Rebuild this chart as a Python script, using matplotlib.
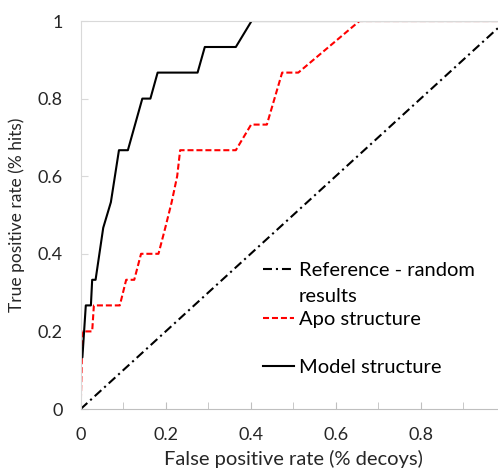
import matplotlib
matplotlib.use("Agg")
import matplotlib.pyplot as plt
from matplotlib.lines import Line2D
from matplotlib.ticker import FixedLocator, FuncFormatter

# ROC curves
model_fpr = [0, 0, 0.004, 0.012, 0.024, 0.027, 0.035, 0.053, 0.071, 0.090, 0.111,
             0.145, 0.164, 0.181, 0.275, 0.292, 0.365, 0.402, 1.0]
model_tpr = [0, 0.133, 0.133, 0.267, 0.267, 0.333, 0.333, 0.467, 0.533, 0.667, 0.667,
             0.8, 0.8, 0.867, 0.867, 0.933, 0.933, 1.0, 1.0]

apo_fpr = [0, 0.004, 0.027, 0.031, 0.092, 0.107, 0.126, 0.142, 0.183, 0.199, 0.214,
           0.227, 0.234, 0.365, 0.401, 0.438, 0.474, 0.512, 0.656, 1.0]
apo_tpr = [0, 0.2, 0.2, 0.267, 0.267, 0.333, 0.333, 0.4, 0.4, 0.467, 0.533,
           0.6, 0.667, 0.667, 0.733, 0.733, 0.867, 0.867, 1.0, 1.0]

random_fpr = [0, 1]
random_tpr = [0, 1]

x_ticks = [0, 0.2, 0.4, 0.6, 0.8]
x_minor = [0.1, 0.3, 0.5, 0.7, 0.9, 1.0]
y_ticks = [0, 0.2, 0.4, 0.6, 0.8, 1.0]

plt.rcParams['font.family'] = ['Lato', 'DejaVu Sans']
text_col = '#262626'

fig = plt.figure(figsize=(4.98, 4.73), dpi=100)
ax = fig.add_axes([80.7 / 498, 64 / 473, 425 / 498, 388 / 473])

ref_line, = ax.plot(random_fpr, random_tpr, color='black', lw=1.5,
                    dashes=(4.3, 1.9, 1, 1.9))
apo_line, = ax.plot(apo_fpr, apo_tpr, color='#ff0000', lw=1.5, dashes=(2.9, 1.4))
model_line, = ax.plot(model_fpr, model_tpr, color='black', lw=1.5)

ax.set_xlim(0, 1)
ax.set_ylim(0, 1)

ax.xaxis.set_major_locator(FixedLocator(x_ticks))
ax.xaxis.set_minor_locator(FixedLocator(x_minor))
ax.yaxis.set_major_locator(FixedLocator(y_ticks))
fmt = FuncFormatter(lambda v, p: f"{v:g}")
ax.xaxis.set_major_formatter(fmt)
ax.yaxis.set_major_formatter(fmt)

ax.tick_params(axis='x', which='both', direction='in', length=5, color='#bfbfbf',
               labelsize=13, pad=13, labelcolor=text_col)
ax.tick_params(axis='y', direction='in', length=5, color='#d9d9d9',
               labelsize=13, pad=13, labelcolor=text_col)

ax.spines['right'].set_visible(False)
ax.spines['left'].set_color('#d9d9d9')
ax.spines['top'].set_color('#d9d9d9')
ax.spines['bottom'].set_color('#bfbfbf')

ax.set_xlabel('False positive rate (% decoys)', fontsize=14.5, color=text_col, labelpad=5)
ax.set_ylabel('True positive rate (% hits)', fontsize=12.5, color=text_col, labelpad=9)

# legend: the wrapped first label is split so its handle sits on the first line
blank = Line2D([], [], color='none')
leg1 = ax.legend([ref_line, blank], ['Reference - random', 'results'],
                 loc='center left', bbox_to_anchor=(0.429, 0.3235), frameon=False,
                 fontsize=14.5, handlelength=1.54, handletextpad=0.25,
                 labelspacing=0.43, borderpad=0, borderaxespad=0)
ax.add_artist(leg1)
ax.legend([apo_line, model_line], ['Apo structure', 'Model structure'],
          loc='center left', bbox_to_anchor=(0.429, 0.169), frameon=False,
          fontsize=14.5, handlelength=1.54, handletextpad=0.25,
          labelspacing=1.5, borderpad=0, borderaxespad=0)

fig.savefig('out.png', dpi=100)
